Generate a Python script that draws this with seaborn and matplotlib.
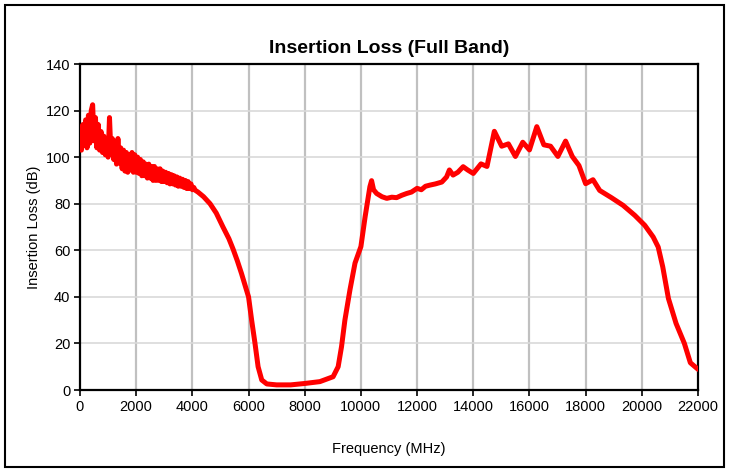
import numpy as np
import pandas as pd
import seaborn as sns
import matplotlib.pyplot as plt
from matplotlib.patches import Rectangle


# low band, sampled every 50 MHz (noisy part of the sweep)
low_freq = np.arange(0, 4250, 50)
low_loss = [110, 103, 114, 105, 116, 104, 118, 106, 120, 122.5,
            107, 117, 104, 114, 103, 111, 102, 109, 101, 107,
            100, 117, 102, 108, 99, 106, 97, 108, 97.5, 104,
            95, 103, 94, 102, 93.5, 101, 94.5, 102, 93.5, 101,
            93.5, 100, 93, 99, 92, 98, 92, 97, 91, 97,
            91, 96, 90, 96, 90, 95, 90, 95, 89.5, 94,
            89.5, 93.5, 89, 93, 88.5, 92.5, 88.5, 92, 88, 91.5,
            87.5, 91, 87.5, 90.5, 87, 90, 86.5, 89.5, 86.5, 88.5,
            86, 87, 85.8, 85.4, 85]

# rest of the sweep
high_freq = [4400, 4630, 4850, 5090, 5300, 5450, 5600, 5750, 5900, 6000,
             6110, 6230, 6340, 6470, 6650, 7000, 7500, 8000, 8540, 9010,
             9190, 9310, 9430, 9610, 9790, 10000, 10150, 10320, 10380, 10450,
             10560, 10750, 10920, 11100, 11270, 11450, 11630, 11800, 12000, 12150,
             12300, 12460, 12650, 12880, 13050, 13150, 13280, 13450, 13640, 13800,
             14000, 14274, 14488, 14750, 15012, 15250, 15500, 15762, 16000, 16262,
             16512, 16750, 17012, 17286, 17524, 17762, 18000, 18262, 18500, 18917,
             19333, 19750, 20107, 20405, 20583, 20745, 20947, 21219, 21515, 21728,
             22000]
high_loss = [83, 80, 76, 70, 65, 60.5, 55.5, 50, 44, 40,
             30, 20, 10, 4.3, 2.6, 2.2, 2.2, 2.8, 3.6, 5.7,
             10, 18.6, 30, 43, 54.5, 61.6, 74.4, 87.3, 89.9, 86,
             84.4, 83, 82.3, 82.8, 82.6, 83.6, 84.4, 85, 86.6, 86,
             87.5, 88, 88.5, 89.3, 91.5, 94.5, 92.3, 93.5, 95.9, 94.5,
             93, 97.1, 96, 111.1, 104.7, 105.7, 100.3, 106.4, 103.1, 113.1,
             105.3, 104.7, 100.3, 106.9, 100.3, 96.4, 88.6, 90.3, 85.7, 82.6,
             79.3, 75, 70.7, 65.7, 61.4, 52.9, 39.3, 28.6, 20, 11.7,
             8.9]

df = pd.DataFrame({
    'freq': np.concatenate([low_freq, high_freq]),
    'loss': np.concatenate([low_loss, high_loss]),
})

sns.set_style('white')
plt.rcParams['font.family'] = ['Liberation Sans', 'DejaVu Sans']
plt.rcParams['text.color'] = 'black'
plt.rcParams['axes.labelcolor'] = 'black'

fig = plt.figure(figsize=(7.3, 4.71), dpi=100)
ax = fig.add_axes([80 / 730, 1 - 390 / 471, 618 / 730, 326 / 471])

sns.lineplot(data=df, x='freq', y='loss', ax=ax, color='#ff0000',
             linewidth=3.6, estimator=None, sort=False, zorder=3)

ax.set_xlim(0, 22000)
ax.set_ylim(0, 140)
ax.set_xticks(range(0, 22001, 2000))
ax.set_yticks(range(0, 141, 20))

# gridlines: vertical darker, horizontal lighter
for x in range(2000, 22000, 2000):
    ax.axvline(x, color='#c0c0c0', lw=1.6, zorder=1)
for y in range(20, 140, 20):
    ax.axhline(y, color='#d9d9d9', lw=1.2, zorder=1)

for s in ax.spines.values():
    s.set_color('black')
    s.set_linewidth(1.6)
    s.set_visible(True)

ax.tick_params(axis='both', direction='out', length=4, width=1.2,
               labelsize=10.5, colors='black', bottom=True, left=True, pad=3)

ax.set_title('Insertion Loss (Full Band)', fontsize=14, fontweight='bold',
             color='black', pad=8)
ax.set_xlabel('Frequency (MHz)', fontsize=10.5, labelpad=20)
ax.set_ylabel('Insertion Loss (dB)', fontsize=10.5, labelpad=3)

# outer chart border
fig.patches.append(Rectangle((5 / 730, 4 / 471), 719 / 730, 462 / 471,
                             transform=fig.transFigure, fill=False,
                             edgecolor='black', lw=1.5))

fig.savefig('out.png', dpi=100)
